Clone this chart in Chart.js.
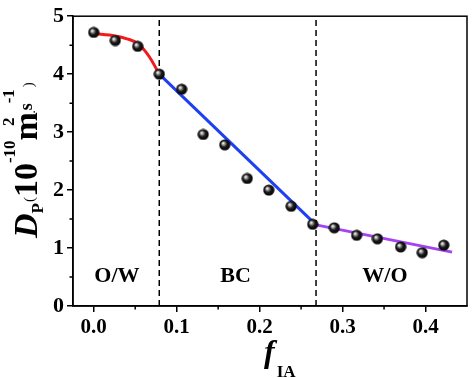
<!DOCTYPE html>
<html>
<head>
<meta charset="utf-8">
<script src="https://cdn.jsdelivr.net/npm/chart.js@4/dist/chart.umd.min.js"></script>
<style>
html,body{margin:0;padding:0;background:#fff;}
#wrap{width:474px;height:378px;}
</style>
</head>
<body>
<div id="wrap"><canvas id="c" width="474" height="378"></canvas></div>
<script>
// ---- data ----
const fIA = [0.000, 0.026, 0.053, 0.079, 0.106, 0.132, 0.158, 0.185, 0.211, 0.238, 0.264, 0.290, 0.317, 0.342, 0.370, 0.396, 0.422];
const DP  = [4.72, 4.58, 4.48, 4.00, 3.74, 2.96, 2.78, 2.20, 2.00, 1.72, 1.41, 1.35, 1.22, 1.16, 1.02, 0.92, 1.05];
const redFitX = [0.000, 0.026, 0.040, 0.053, 0.067, 0.079];
const redFitY = [4.70, 4.66, 4.61, 4.53, 4.30, 4.00];
const blueFitX = [0.079, 0.268];
const blueFitY = [4.00, 1.40];
const purpleFitX = [0.268, 0.432];
const purpleFitY = [1.40, 0.93];
const boundaries = [0.079, 0.268];
const regionLabels = ['O/W', 'BC', 'W/O'];
const regionX = [0.028, 0.171, 0.351];
const regionY = [0.52, 0.52, 0.52];
const xTickValues = [0.0, 0.1, 0.2, 0.3, 0.4];
const yTickValues = [0, 1, 2, 3, 4, 5];
const xMinorTicks = [0.05, 0.15, 0.25, 0.35];
const yMinorTicks = [0.5, 1.5, 2.5, 3.5, 4.5];

const SERIF = '"Liberation Serif", "Times New Roman", serif';
const pts = (xs, ys) => xs.map((x, i) => ({x: x, y: ys[i]}));

// shaded sphere marker
const ball = document.createElement('canvas');
ball.width = 12; ball.height = 12;
(function(){
  const g = ball.getContext('2d');
  const gr = g.createRadialGradient(4.2, 4.2, 0.3, 6, 6, 6);
  gr.addColorStop(0, '#ffffff');
  gr.addColorStop(0.22, '#9a9a9a');
  gr.addColorStop(0.5, '#1a1a1a');
  gr.addColorStop(1, '#000000');
  g.fillStyle = gr;
  g.beginPath(); g.arc(6, 6, 5.6, 0, Math.PI * 2); g.fill();
})();

const datasets = [
  {label: 'data', data: pts(fIA, DP), pointStyle: ball, pointRadius: 6, showLine: false},
  {label: 'red', data: pts(redFitX, redFitY), showLine: true, borderColor: '#f21b1b', borderWidth: 3, pointRadius: 0, cubicInterpolationMode: 'monotone'},
  {label: 'blue', data: pts(blueFitX, blueFitY), showLine: true, borderColor: '#2040f0', borderWidth: 3, pointRadius: 0},
  {label: 'purple', data: pts(purpleFitX, purpleFitY), showLine: true, borderColor: '#a444f0', borderWidth: 3, pointRadius: 0}
];
boundaries.forEach((b, i) => {
  datasets.push({label: 'b' + i, data: [{x: b, y: 0}, {x: b, y: 5}], showLine: true, borderColor: '#000', borderWidth: 1.5, borderDash: [6, 4], pointRadius: 0});
});

const decor = {
  id: 'decor',
  afterDraw(chart) {
    const ctx = chart.ctx, a = chart.chartArea;
    const xs = chart.scales.x, ys = chart.scales.y;
    ctx.save();
    // frame
    ctx.strokeStyle = '#000'; ctx.lineWidth = 1.5;
    ctx.strokeRect(a.left, a.top, a.right - a.left, a.bottom - a.top);
    // minor ticks
    ctx.beginPath();
    yMinorTicks.forEach(v => { const p = ys.getPixelForValue(v); ctx.moveTo(a.left - 3.5, p); ctx.lineTo(a.left, p); });
    xMinorTicks.forEach(v => { const p = xs.getPixelForValue(v); ctx.moveTo(p, a.bottom); ctx.lineTo(p, a.bottom + 3.5); });
    ctx.stroke();
    // region labels
    ctx.fillStyle = '#000';
    ctx.font = 'bold 22px ' + SERIF;
    ctx.textAlign = 'center'; ctx.textBaseline = 'middle';
    regionLabels.forEach((t, i) => ctx.fillText(t, xs.getPixelForValue(regionX[i]), ys.getPixelForValue(regionY[i])));
    // x title: f_IA
    ctx.textAlign = 'left'; ctx.textBaseline = 'alphabetic';
    ctx.font = 'italic bold 32px ' + SERIF;
    const fw = ctx.measureText('f').width;
    const xStart = (a.left + a.right) / 2 - 6;
    ctx.fillText('f', xStart, 362);
    ctx.font = 'bold 17px ' + SERIF;
    ctx.fillText('IA', xStart + fw + 2, 377);
    // y title
    ctx.translate(37, 238);
    ctx.rotate(-Math.PI / 2);
    const pieces = [
      ['D', 'italic bold 34px', 0, 0],
      ['P', 'bold 17px', 6, 0],
      ['(', '15px', -3, 1],
      ['10', 'bold 34px', 0, 0],
      ['-10', 'bold 17px', -22, 0],
      ['m', 'bold 34px', 0, 0],
      ['2', 'bold 17px', -23, -14],
      ['.', '13px', -2, 4],
      ['s', 'bold 18px', -5, 0],
      ['-1', 'bold 17px', -23, 0],
      [')', '15px', -4, 2]
    ];
    let cx = 0;
    pieces.forEach(p => {
      ctx.font = p[1] + ' ' + SERIF;
      cx += p[3];
      ctx.fillText(p[0], cx, p[2]);
      cx += ctx.measureText(p[0]).width;
    });
    ctx.restore();
  }
};

new Chart(document.getElementById('c'), {
  type: 'scatter',
  data: {datasets: datasets},
  options: {
    responsive: false,
    animation: false,
    layout: {padding: {top: 10, right: 2, left: 0, bottom: 0}},
    plugins: {legend: {display: false}, tooltip: {enabled: false}},
    scales: {
      x: {
        type: 'linear', min: -0.025, max: 0.45,
        afterBuildTicks: s => { s.ticks = xTickValues.map(v => ({value: v})); },
        afterFit: s => { s.height = 72; },
        ticks: {color: '#000', font: {family: SERIF, size: 21, weight: 'bold'}, padding: 3, maxRotation: 0, callback: v => Number(v).toFixed(1)},
        grid: {drawOnChartArea: false, drawTicks: true, tickLength: 6, color: '#000', lineWidth: 1.5},
        border: {display: true, color: '#000', width: 1.5}
      },
      y: {
        type: 'linear', min: 0, max: 5,
        afterBuildTicks: s => { s.ticks = yTickValues.map(v => ({value: v})); },
        afterFit: s => { s.width = 73; },
        ticks: {color: '#000', font: {family: SERIF, size: 22, weight: 'bold'}, padding: 3, callback: v => String(v)},
        grid: {drawOnChartArea: false, drawTicks: true, tickLength: 6, color: '#000', lineWidth: 1.5},
        border: {display: true, color: '#000', width: 1.5}
      }
    }
  },
  plugins: [decor]
});
</script>
</body>
</html>
